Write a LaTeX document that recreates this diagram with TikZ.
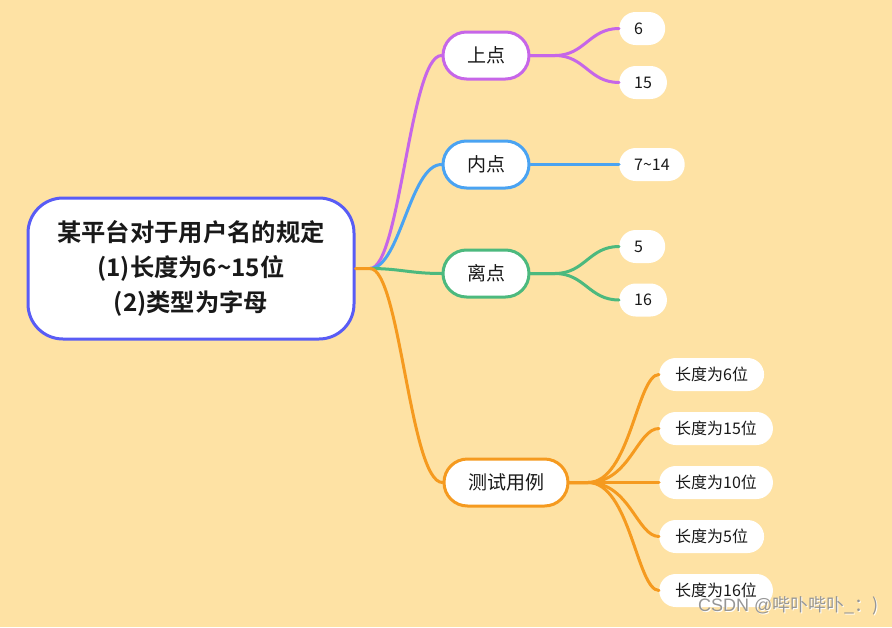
\documentclass[tikz,border=0pt]{standalone}
\usepackage{fontspec}
\setmainfont{Noto Sans CJK SC}
\newfontfamily\cjkbold{Noto Sans CJK SC Bold}
\newfontfamily\wmlatin{Liberation Sans}
\definecolor{bg}{RGB}{254,226,164}
\definecolor{rootc}{RGB}{89,92,245}
\definecolor{purp}{RGB}{198,102,232}
\definecolor{blu}{RGB}{74,163,242}
\definecolor{grn}{RGB}{76,185,126}
\definecolor{orn}{RGB}{245,154,31}
\definecolor{txt}{RGB}{25,25,25}
\definecolor{wmgray}{RGB}{150,150,150}
\tikzset{
  rootbox/.style={draw=rootc, line width=3pt, fill=white, rounded corners=35pt,
    minimum width=326pt, minimum height=141pt, align=center, text=txt,
    font=\cjkbold\fontsize{24.3}{35}\selectfont},
  topic/.style={draw=#1, line width=3pt, fill=white, rounded corners=23.5pt,
    minimum width=86pt, minimum height=47pt, inner xsep=24pt, text=txt,
    font=\fontsize{19}{22}\selectfont},
  leaf/.style={fill=white, rounded corners=16.5pt, minimum height=33pt,
    inner xsep=16pt, anchor=west, text=txt, font=\fontsize{16}{18}\selectfont},
  small/.style={text width=16pt, align=left, inner xsep=15pt},
  conn/.style={draw=#1, line width=3pt, line cap=round},
  wmark/.style={anchor=west, inner sep=0pt, font=\fontsize{18}{20}\selectfont}
}
\begin{document}
\begin{tikzpicture}[x=1pt,y=-1pt]
\fill[bg] (0,0) rectangle (892,627);
\useasboundingbox (0,0) rectangle (892,627);

\node[rootbox] (root) at (191,268.5) {某平台对于用户名的规定\\(1)长度为6\char`~15位\\(2)类型为字母};

\node[topic=purp] (up) at (486,55.5) {上点};
\node[topic=blu] (in) at (486,164.5) {内点};
\node[topic=grn] (off) at (486,273.5) {离点};
\node[topic=orn] (test) at (506,482.5) {测试用例};

\node[leaf,small] (l6) at (619,28.5) {6};
\node[leaf,inner xsep=15pt] (l15) at (619,82.5) {15};
\node[leaf,inner xsep=15pt] (l714) at (619,164.5) {7\char`~14};
\node[leaf,small] (l5) at (619,246.5) {5};
\node[leaf,inner xsep=15pt] (l16) at (619,300) {16};

\node[leaf] (t6) at (659,374.5) {长度为6位};
\node[leaf] (t15) at (659,428.5) {长度为15位};
\node[leaf] (t10) at (659,482.5) {长度为10位};
\node[leaf] (t5) at (659,536.5) {长度为5位};
\node[leaf] (t16) at (659,590.5) {长度为16位};

\coordinate (split) at (370,268.5);
\coordinate (upS) at (555,55.5);
\coordinate (offS) at (555,273.5);
\coordinate (testS) at (588,482.5);

% root branches
\draw[conn=purp] (split) .. controls (400,268.5) and (410,55.5) .. (up.west);
\draw[conn=blu] (split) .. controls (400,268.5) and (410,164.5) .. (in.west);
\draw[conn=grn] (split) .. controls (400,268.5) and (410,273.5) .. (off.west);
\draw[conn=orn] (root.east) -- (split) .. controls (400,268.5) and (410,482.5) .. (test.west);

% leaf branches
\draw[conn=purp] (up.east) -- (upS) .. controls +(30,0) and +(-30,0) .. (l6.west);
\draw[conn=purp] (up.east) -- (upS) .. controls +(30,0) and +(-30,0) .. (l15.west);
\draw[conn=blu] (in.east) -- (l714.west);
\draw[conn=grn] (off.east) -- (offS) .. controls +(30,0) and +(-30,0) .. (l5.west);
\draw[conn=grn] (off.east) -- (offS) .. controls +(30,0) and +(-30,0) .. (l16.west);

\foreach \t in {t6,t15,t5,t16}{
  \draw[conn=orn] (test.east) -- (testS) .. controls +(42,0) and +(-22,0) .. (\t.west);
}
\draw[conn=orn] (test.east) -- (t10.west);

% watermark
\node[wmark, text=white] (wmS) at (699,607) {{\wmlatin CSDN @}哔卟哔卟\_：)};
\node[wmark, text=wmgray] (wm) at (698,606) {{\wmlatin CSDN @}哔卟哔卟\_：)};
\end{tikzpicture}
\end{document}
